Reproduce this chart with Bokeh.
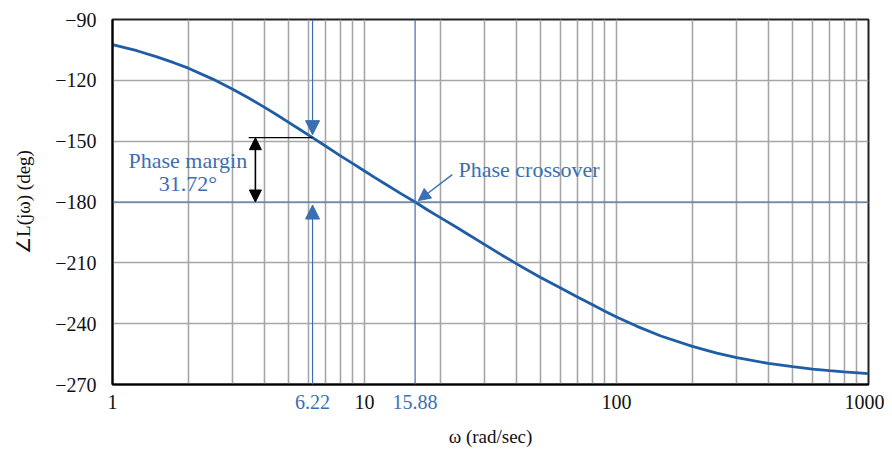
from bokeh.plotting import figure
from bokeh.models import (FixedTicker, Span, Arrow, NormalHead, Label, Range1d,
                          CustomJSTickFormatter)
from bokeh.embed import file_html
from bokeh.resources import INLINE

# ---- data ----
omega = [1, 1.25, 1.5, 1.75, 2, 2.5, 3, 3.5, 4, 4.5, 5, 5.5, 6.22, 7, 8, 9, 10,
         11, 12, 14, 15.88, 18, 20, 23, 26, 30, 35, 40, 45, 50, 60, 70, 80, 90,
         100, 120, 150, 200, 250, 300, 400, 500, 600, 700, 800, 1000]
phase = [-102.4, -105.4, -108.4, -111.3, -114.0, -119.4, -124.4, -129.0,
         -133.2, -137.1, -140.7, -144.0, -148.28, -152.4, -157.1, -161.1,
         -164.7, -168.0, -170.9, -176.0, -180.0, -184.3, -187.7, -192.2,
         -196.3, -201.0, -206.1, -210.4, -214.0, -217.2, -222.4, -226.9,
         -230.6, -233.9, -236.7, -241.2, -246.1, -251.2, -254.5, -256.8,
         -259.6, -261.2, -262.4, -263.2, -263.8, -264.6]
y_ticks = [-270, -240, -210, -180, -150, -120, -90]
x_major = [1, 10, 100, 1000]
x_grid = [m * d for d in (1, 10, 100) for m in range(1, 10)] + [1000]
w_gain = 6.22        # gain crossover frequency
pm_phase = -148.28   # phase at gain crossover
w_phase = 15.88      # phase crossover frequency
pm_text = "31.72°"

SERIF = "Liberation Serif"
BLUE = "#3a6fb3"
CURVE = "#1f5ea6"
GRID = "#a6a6a6"

p = figure(x_axis_type="log", x_range=Range1d(1, 1000), y_range=Range1d(-270, -90),
           frame_width=756, frame_height=365,
           min_border_left=112, min_border_right=16, min_border_top=19,
           min_border_bottom=64, output_backend="svg", toolbar_location=None)
p.background_fill_color = "white"
p.border_fill_color = "white"
p.outline_line_color = "#222222"
p.outline_line_width = 2

# grid
p.xgrid.ticker = FixedTicker(ticks=x_grid)
p.ygrid.ticker = FixedTicker(ticks=y_ticks)
for g in (p.xgrid, p.ygrid):
    g.grid_line_color = GRID
    g.grid_line_width = 1.6
    g.minor_grid_line_color = None

# axes
p.xaxis.ticker = FixedTicker(ticks=x_major)
p.xaxis.formatter = CustomJSTickFormatter(code="return tick.toString();")
p.yaxis.ticker = FixedTicker(ticks=y_ticks)
p.yaxis.formatter = CustomJSTickFormatter(
    code="return tick < 0 ? '\u2212' + Math.abs(tick) : tick.toString();")
for ax in (p.xaxis, p.yaxis):
    ax.major_tick_line_color = None
    ax.minor_tick_line_color = None
    ax.axis_line_color = "black"
    ax.axis_line_width = 2
    ax.major_label_text_font = SERIF
    ax.major_label_text_font_size = "20px"
    ax.major_label_text_color = "#111111"
    ax.axis_label_text_font = SERIF
    ax.axis_label_text_font_size = "19px"
    ax.axis_label_text_font_style = "normal"
    ax.axis_label_text_color = "#111111"
p.xaxis.major_label_standoff = 4
p.yaxis.major_label_standoff = 10
p.xaxis.axis_label = "ω (rad/sec)"
p.xaxis.axis_label_standoff = 14
p.yaxis.axis_label = "∠L(jω) (deg)"
p.yaxis.axis_label_standoff = 18

# blue reference lines
p.add_layout(Span(location=-180, dimension="width", line_color=BLUE, line_width=1.2))
p.add_layout(Span(location=w_phase, dimension="height", line_color=BLUE, line_width=1.2))

# the curve
p.line(omega, phase, line_color=CURVE, line_width=2.8)

# phase margin markers at gain crossover
p.add_layout(Arrow(end=NormalHead(size=14, fill_color=BLUE, line_color=BLUE),
                   x_start=w_gain, y_start=-90, x_end=w_gain, y_end=pm_phase + 1.5,
                   line_color=BLUE, line_width=1.2))
p.add_layout(Arrow(end=NormalHead(size=14, fill_color=BLUE, line_color=BLUE),
                   x_start=w_gain, y_start=-270, x_end=w_gain, y_end=-181.5,
                   line_color=BLUE, line_width=1.2))

# black leader line and double arrow
p.segment(x0=[3.47], y0=[pm_phase], x1=[w_gain], y1=[pm_phase],
          line_color="black", line_width=1.3)
p.add_layout(Arrow(start=NormalHead(size=12, fill_color="black", line_color="black"),
                   end=NormalHead(size=12, fill_color="black", line_color="black"),
                   x_start=3.69, y_start=pm_phase, x_end=3.69, y_end=-180,
                   line_color="black", line_width=1.6))

p.add_layout(Label(x=1.99, y=-159.5, text="Phase margin", text_align="center",
                   text_baseline="middle", text_font=SERIF, text_font_size="22px",
                   text_color=BLUE))
p.add_layout(Label(x=1.99, y=-170.8, text=pm_text, text_align="center",
                   text_baseline="middle", text_font=SERIF, text_font_size="22px",
                   text_color=BLUE))

# phase crossover annotation
p.add_layout(Arrow(end=NormalHead(size=12, fill_color=BLUE, line_color=BLUE),
                   x_start=22.3, y_start=-166.5, x_end=w_phase * 1.03, y_end=-179.3,
                   line_color=BLUE, line_width=1.3))
p.add_layout(Label(x=23.6, y=-163.8, text="Phase crossover", text_align="left",
                   text_baseline="middle", text_font=SERIF, text_font_size="22px",
                   text_color=BLUE))

# blue tick labels for the crossover frequencies
for w in (w_gain, w_phase):
    p.add_layout(Label(x=w, y=-270, y_offset=-10, text=f"{w:.2f}", text_align="center",
                       text_baseline="top", text_font=SERIF, text_font_size="20px",
                       text_color=BLUE), "below")

open("out.html", "w").write(file_html(p, INLINE))
